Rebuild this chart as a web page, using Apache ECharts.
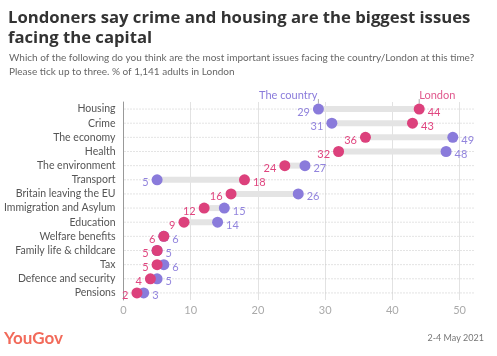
<!DOCTYPE html>
<html><head><meta charset="utf-8">
<script src="https://cdn.jsdelivr.net/npm/echarts@6/dist/echarts.min.js"></script>
<style>html,body{margin:0;padding:0;background:#fff}#c{width:497px;height:356px}</style>
</head><body><div id="c"></div>
<script>
var categories = ['Housing','Crime','The economy','Health','The environment','Transport','Britain leaving the EU','Immigration and Asylum','Education','Welfare benefits','Family life & childcare','Tax','Defence and security','Pensions'];
var country = [29,31,49,48,27,5,26,15,14,6,5,6,5,3];
var london = [44,43,36,32,24,18,16,12,9,6,5,5,4,2];
var xTicks = [0,10,20,30,40,50];

var PURPLE = '#8a7bdb', PINK = '#dc417c';
var PURPLE_T = '#9284dd', PINK_T = '#e0457f';
var FONT = 'Lato, "Open Sans", sans-serif';
var XMAX = 52.3;

var chart = echarts.init(document.getElementById('c'), null, {renderer:'canvas'});

var countryData = country.map(function(v,i){
  return {value:[v,i], label:{position: v < london[i] ? 'left' : 'right'}};
});
var londonData = london.map(function(v,i){
  return {value:[v,i], label:{position: v > country[i] ? 'right' : 'left'}};
});

var option = {
  animation:false,
  textStyle:{fontFamily:FONT},
  title:[{
    text:'Londoners say crime and housing are the biggest issues\nfacing the capital',
    left:3, top:3,
    textStyle:{fontFamily:'"Open Sans", sans-serif', fontSize:16.7, fontWeight:'bold', color:'#333', lineHeight:20}
  },{
    text:'Which of the following do you think are the most important issues facing the country/London at this time?\nPlease tick up to three. % of 1,141 adults in London',
    left:4, top:46.5,
    textStyle:{fontFamily:FONT, fontSize:10, fontWeight:'normal', color:'#666', lineHeight:13.5}
  }],
  grid:{left:123.5, right:22, top:102, bottom:56, containLabel:false, outerBoundsMode:'none'},
  xAxis:{
    type:'value', min:0, max:XMAX, interval:10,
    axisLine:{show:false}, axisTick:{show:false},
    axisLabel:{color:'#aaa', fontSize:11, margin:5, showMaxLabel:false,
      formatter:function(v){ return xTicks.indexOf(v) >= 0 ? String(v) : ''; }},
    splitLine:{show:true, showMaxLine:false, lineStyle:{color:'#e2e2e2', width:1}}
  },
  yAxis:{
    type:'category', data:categories, inverse:true,
    axisLine:{show:true, lineStyle:{color:'#999', width:1}},
    axisTick:{show:false},
    axisLabel:{color:'#555', fontSize:10.5, margin:8, interval:0},
    splitLine:{show:false}
  },
  series:[{
    type:'custom',
    z:1,
    data:country.map(function(v,i){return [v, london[i], i];}),
    renderItem:function(params, api){
      var i = api.value(2);
      var a = api.coord([api.value(0), i]);
      var b = api.coord([api.value(1), i]);
      var l0 = api.coord([0, i]);
      var l1 = api.coord([XMAX, i]);
      var x0 = Math.min(a[0], b[0]), x1 = Math.max(a[0], b[0]);
      return {type:'group', children:[
        {type:'line', shape:{x1:l0[0]+1, y1:l0[1], x2:l1[0], y2:l1[1]},
         style:{stroke:'#c8c8c8', lineWidth:1, lineDash:[1,2]}},
        {type:'rect', shape:{x:x0, y:a[1]-3, width:x1-x0, height:6},
         style:{fill:'#e4e4e4'}}
      ]};
    }
  },{
    name:'The country', type:'scatter', z:3,
    symbolSize:11, itemStyle:{color:PURPLE, opacity:1},
    data:countryData,
    label:{show:true, color:PURPLE_T, fontSize:11, distance:3, offset:[0,3],
      formatter:function(p){return p.value[0];}}
  },{
    name:'London', type:'scatter', z:4,
    symbolSize:11, itemStyle:{color:PINK, opacity:1},
    data:londonData,
    label:{show:true, color:PINK_T, fontSize:11, distance:3, offset:[0,3],
      formatter:function(p){return p.value[0];}}
  }]
};
chart.setOption(option);

var pc = chart.convertToPixel({gridIndex:0}, [country[0], 0]);
var pl = chart.convertToPixel({gridIndex:0}, [london[0], 0]);
chart.setOption({graphic:[
  {type:'line', shape:{x1:pc[0], y1:pc[1]-10, x2:pc[0], y2:pc[1]-5.5}, style:{stroke:'#aaa', lineWidth:1}, silent:true},
  {type:'line', shape:{x1:pl[0], y1:pl[1]-10, x2:pl[0], y2:pl[1]-5.5}, style:{stroke:'#aaa', lineWidth:1}, silent:true},
  {type:'text', x:pc[0]-1, y:pc[1]-14, style:{text:'The country', fill:PURPLE, font:'11px '+FONT, textAlign:'right', textVerticalAlign:'middle'}},
  {type:'text', x:pl[0], y:pl[1]-14, style:{text:'London', fill:'#e0588d', font:'11px '+FONT, textAlign:'left', textVerticalAlign:'middle'}},
  {type:'text', left:4, top:330, style:{text:'YouGov', fill:'#f26a5a', font:'bold 17px '+FONT}},
  {type:'text', right:13, top:334, style:{text:'2-4 May 2021', fill:'#777', font:'9px '+FONT, textAlign:'right'}}
]});
</script></body></html>
